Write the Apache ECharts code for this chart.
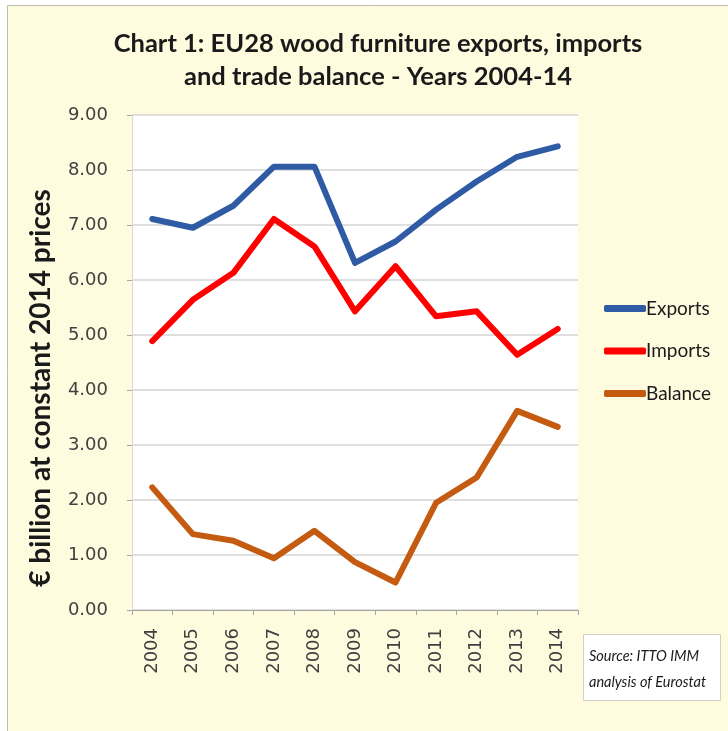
<!DOCTYPE html>
<html>
<head>
<meta charset="utf-8">
<script src="https://cdn.jsdelivr.net/npm/echarts@6/dist/echarts.min.js"></script>
<style>
  html, body { margin: 0; padding: 0; background: #ffffff; }
  #chart { width: 728px; height: 731px; }
</style>
</head>
<body>
<div id="chart"></div>
<script>
const years = ["2004", "2005", "2006", "2007", "2008", "2009", "2010", "2011", "2012", "2013", "2014"];
const exportsData = [7.11, 6.95, 7.35, 8.06, 8.06, 6.31, 6.70, 7.28, 7.79, 8.24, 8.43];
const importsData = [4.89, 5.64, 6.13, 7.11, 6.61, 5.43, 6.25, 5.34, 5.43, 4.64, 5.11];
const balanceData = [2.23, 1.38, 1.26, 0.94, 1.44, 0.87, 0.50, 1.95, 2.41, 3.62, 3.33];

const renderLineChart = () => {
  var myChart = echarts.init(document.getElementById("chart"));

  const makeSeries = (name, data, color) => ({
    name: name,
    type: "line",
    data: data,
    symbol: "none",
    lineStyle: { width: 6, color: color, cap: "round", join: "round" },
    itemStyle: { color: color },
  });

  var option = {
    animation: false,
    backgroundColor: "#ffffff",
    graphic: [
      {
        type: "rect",
        z: -10,
        shape: { x: 7.5, y: 5.5, width: 730, height: 740 },
        style: { fill: "#fefbdf", stroke: "#bdbdb0", lineWidth: 1 },
      },
      {
        type: "rect",
        z: 5,
        shape: { x: 583.5, y: 634.5, width: 137, height: 66 },
        style: { fill: "#ffffff", stroke: "#d0d0c8", lineWidth: 1 },
      },
      {
        type: "text",
        z: 6,
        left: 589,
        top: 643,
        style: {
          text: "Source: ITTO IMM\nanalysis of Eurostat",
          font: "italic 14.5px Lato",
          fill: "#1a1a1a",
          lineHeight: 26,
        },
      },
      // y axis title, drawn by hand so it can sit lower than the plot middle
      {
        type: "text",
        z: 6,
        x: 41,
        y: 388,
        rotation: Math.PI / 2,
        style: {
          text: "€ billion at constant 2014 prices",
          font: "bold 28px Lato",
          fill: "#1a1a1a",
          align: "center",
          verticalAlign: "middle",
        },
      },
    ],
    title: {
      text: "Chart 1: EU28 wood furniture exports, imports\nand trade balance - Years 2004-14",
      left: 373,
      textAlign: "center",
      top: 22,
      textStyle: {
        fontFamily: "Lato",
        fontWeight: "bold",
        fontSize: 25.5,
        lineHeight: 33,
        color: "#1a1a1a",
      },
    },
    legend: {
      orient: "vertical",
      left: 599,
      top: 294,
      icon: "roundRect",
      itemWidth: 42,
      itemHeight: 7,
      itemGap: 23.5,
      textStyle: { fontFamily: "Lato", fontSize: 19, color: "#1a1a1a", padding: [0, 0, 0, -5] },
      data: ["Exports", "Imports", "Balance"],
    },
    grid: {
      left: 132,
      right: 150,
      top: 115,
      bottom: 121,
      show: true,
      backgroundColor: "#ffffff",
      borderWidth: 0,
    },
    xAxis: {
      type: "category",
      data: years,
      boundaryGap: true,
      axisLine: { lineStyle: { color: "#a6a6a6" } },
      axisTick: { show: true, length: 5, lineStyle: { color: "#a6a6a6" } },
      axisLabel: {
        rotate: 90,
        margin: 18,
        fontFamily: "DejaVu Sans",
        fontSize: 18,
        color: "#404040",
      },
    },
    yAxis: {
      type: "value",
      min: 0,
      max: 9,
      interval: 1,
      axisLine: { show: true, lineStyle: { color: "#d9d9d9" } },
      axisTick: { show: true, length: 5, lineStyle: { color: "#a6a6a6" } },
      splitLine: { lineStyle: { color: "#d4d4d4", width: 1.5 } },
      axisLabel: {
        margin: 24,
        fontFamily: "DejaVu Sans",
        fontSize: 18,
        color: "#404040",
        formatter: (v) => v.toFixed(2),
      },
    },
    series: [
      makeSeries("Exports", exportsData, "#2e5ba4"),
      makeSeries("Imports", importsData, "#ff0000"),
      makeSeries("Balance", balanceData, "#c55a11"),
    ],
  };

  myChart.setOption(option);
};

document.addEventListener("DOMContentLoaded", function () {
  renderLineChart();
});
</script>
</body>
</html>
